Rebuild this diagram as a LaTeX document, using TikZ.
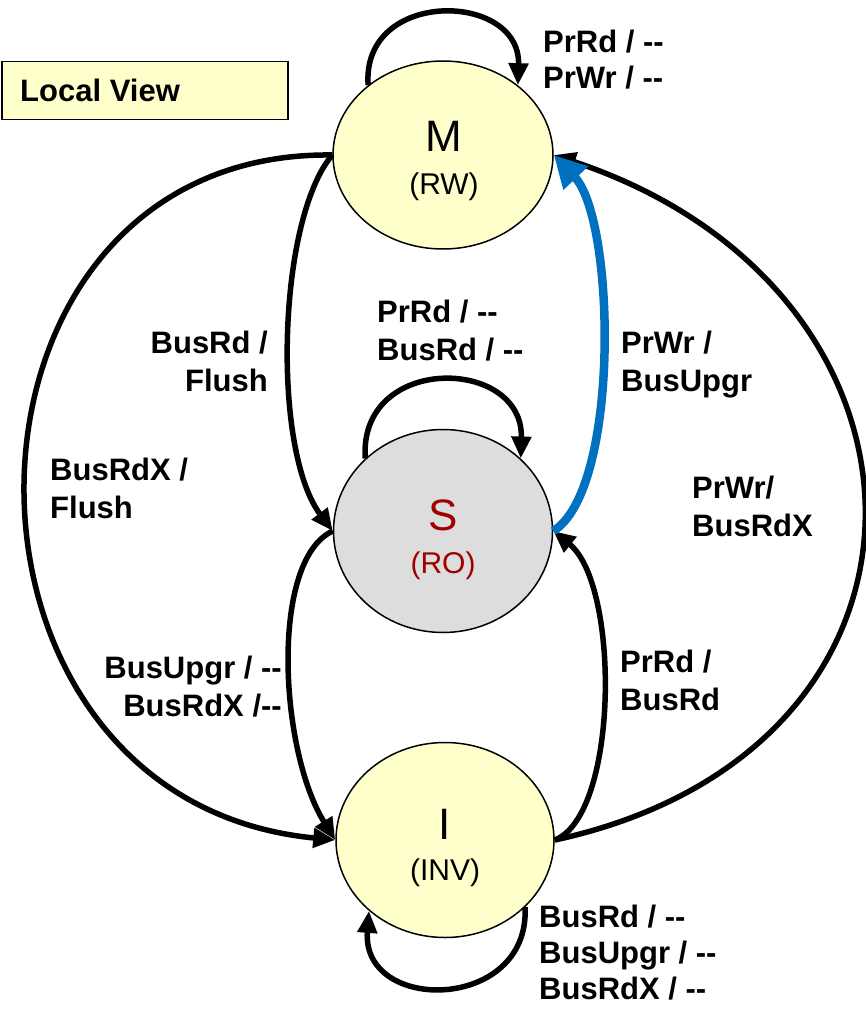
\documentclass[tikz,border=0pt]{standalone}
\usepackage{fontspec}
\setmainfont{Liberation Sans}
\usetikzlibrary{shapes.geometric,arrows.meta}
\definecolor{stateyellow}{HTML}{FFFFCC}
\definecolor{stategray}{HTML}{DDDDDD}
\definecolor{rored}{HTML}{A00000}
\definecolor{upgrblue}{HTML}{0070C0}

\begin{document}
\begin{tikzpicture}[x=1pt,y=-1pt,
  state/.style={ellipse, draw, line width=1.5pt, inner sep=0pt},
  letter/.style={font=\fontsize{44}{44}\selectfont, anchor=base, inner sep=0pt},
  mode/.style={font=\fontsize{30}{30}\selectfont, anchor=base, inner sep=0pt},
  trans/.style={line width=5.5pt, -{Triangle[length=22pt,width=19pt]}},
  upgr/.style={line width=8.5pt, draw=upgrblue, -{Triangle[length=32pt,width=32pt]}},
  lbl/.style={font=\bfseries\fontsize{31}{38}\selectfont, inner sep=0pt},
  tightlbl/.style={font=\bfseries\fontsize{31}{36}\selectfont, inner sep=0pt},
  ]
\fill[white] (0,0) rectangle (865,1011);
\useasboundingbox (0,0) rectangle (865,1011);

% title box
\node[draw, line width=1.5pt, fill=stateyellow, minimum width=286pt, minimum height=58pt,
      inner sep=0pt, anchor=north west] (viewbox) at (1,61) {};
\node[lbl, anchor=base west] (viewtext) at (20,102) {Local View};

% states
\node[state, fill=stateyellow, minimum width=220pt, minimum height=188pt] (M) at (443,155) {};
\node[state, fill=stategray,   minimum width=219pt, minimum height=203pt] (S) at (443,531) {};
\node[state, fill=stateyellow, minimum width=218pt, minimum height=195pt] (I) at (445,840) {};

\node[letter] (Mname) at (444,152) {M};
\node[mode]   (Mmode) at (444,194) {(RW)};
\node[letter, text=rored] (Sname) at (443,530) {S};
\node[mode,   text=rored] (Smode) at (443,573) {(RO)};
\node[letter] (Iname) at (445,839) {I};
\node[mode]   (Imode) at (445,880) {(INV)};

% self loops
\draw[trans] (M.137) .. controls +(-7,-97) and +(3,-94) .. (M.43);
\draw[trans] (S.137) .. controls +(-7,-105) and +(3,-102) .. (S.43);
\draw[trans] (I.-40) .. controls +(5,105) and +(-8,103) .. (I.-137);

% left side transitions
\draw[trans] (M.west) .. controls +(-55,65) and +(-61,-81) .. (S.west);
\draw[trans] (M.west) .. controls +(-403,-5) and +(-416,-40) .. (I.west);
\draw[trans] (S.west) .. controls +(-63,29) and +(-56,-90) .. (I.west);

% right side transitions
\draw[trans] (I.east) .. controls +(416,-90) and +(407,135) .. (M.east);
\draw[trans] (I.east) .. controls +(64,-25) and +(67,54) .. (S.east);
\draw[upgr]  (S.east) .. controls +(67,-41) and +(62,65) .. (M.east);

% transition labels
\node[tightlbl, align=left, anchor=north west] (lM) at (543,30) {PrRd / -{}-\\PrWr / -{}-};
\node[lbl, align=left,  anchor=north west] (lS)   at (377,300) {PrRd / -{}-\\BusRd / -{}-};
\node[tightlbl, align=left, anchor=north west] (lI) at (539,905) {BusRd / -{}-\\BusUpgr / -{}-\\BusRdX / -{}-};
\node[lbl, align=right, anchor=north east] (lMS)  at (268,331) {BusRd /\\Flush};
\node[lbl, align=left,  anchor=north west] (lMI)  at (50,458)  {BusRdX /\\Flush};
\node[lbl, align=right, anchor=north east] (lSI)  at (282,656) {BusUpgr / -{}-\\BusRdX /-{}-};
\node[lbl, align=left,  anchor=north west] (lSM)  at (621,331) {PrWr /\\BusUpgr};
\node[lbl, align=left,  anchor=north west] (lIM)  at (692,476) {PrWr/\\BusRdX};
\node[lbl, align=left,  anchor=north west] (lIS)  at (620,650) {PrRd /\\BusRd};
\end{tikzpicture}
\end{document}
